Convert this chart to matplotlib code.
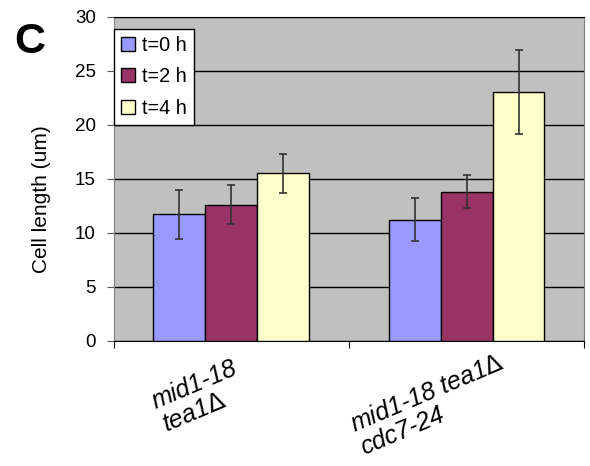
import numpy as np
import matplotlib.pyplot as plt

plt.rcParams['font.family'] = ['Liberation Sans', 'DejaVu Sans']

strains = ["mid1-18\ntea1$\\mathit{\\Delta}$", "mid1-18 tea1$\\mathit{\\Delta}$\ncdc7-24"]
labels = ["t=0 h", "t=2 h", "t=4 h"]
colors = ["#9999FF", "#993366", "#FFFFCC"]
# mean cell length per time point, one value per strain
means = [[11.7, 11.2], [12.6, 13.8], [15.5, 23.0]]
errs = [[2.3, 2.0], [1.8, 1.5], [1.8, 3.9]]

fig = plt.figure(figsize=(5.9, 4.66), dpi=100)
ax = fig.add_axes([0.193, 0.269, 0.797, 0.695])
ax.set_facecolor("#C0C0C0")

x = np.arange(len(strains))
w = 0.221
for i in range(3):
    ax.bar(x + (i - 1) * w, means[i], w, color=colors[i], edgecolor="black",
           linewidth=1, label=labels[i], zorder=3)
    ax.errorbar(x + (i - 1) * w, means[i], yerr=errs[i], fmt="none",
                ecolor="#333333", elinewidth=1.2, capsize=3, capthick=1.2, zorder=4)

ax.set_ylim(0, 30)
ax.set_yticks(range(0, 31, 5))
ax.yaxis.grid(True, color="black", linewidth=1, zorder=1)
ax.set_axisbelow(True)
ax.set_xlim(-0.5, 1.5)
ax.set_xticks([-0.5, 0.5, 1.5])
ax.set_xticklabels([])
ax.tick_params(axis="y", labelsize=13.5, length=5, color="#555555", pad=8)
ax.tick_params(axis="x", length=5, color="black")
for s in ["left", "right"]:
    ax.spines[s].set_color("#808080")
ax.spines["top"].set_color("black")
ax.spines["bottom"].set_color("black")

# rotated two-line category labels under each group
label_pos = [(-0.135, -5.2), (0.855, -5.95)]
for (lx, ly), name in zip(label_pos, strains):
    ax.text(lx, ly, name, rotation=23, ha="center", va="center",
            multialignment="left", fontsize=18, style="italic",
            rotation_mode="anchor", linespacing=1.05)

ax.set_ylabel("Cell length (um)", fontsize=15)
ax.yaxis.set_label_coords(-0.134, 0.437)

leg = ax.legend(loc="upper left", bbox_to_anchor=(0, 0.962), fontsize=14.3,
                frameon=True, fancybox=False, borderaxespad=0, handlelength=0.72,
                handleheight=0.72, handletextpad=0.35, labelspacing=0.62,
                borderpad=0.35)
leg.get_frame().set_edgecolor("black")
leg.get_frame().set_linewidth(1)
leg.get_frame().set_alpha(1)

fig.text(0.024, 0.91, "C", fontsize=31, fontweight="bold", ha="left", va="center")

fig.savefig("out.png", dpi=100)
